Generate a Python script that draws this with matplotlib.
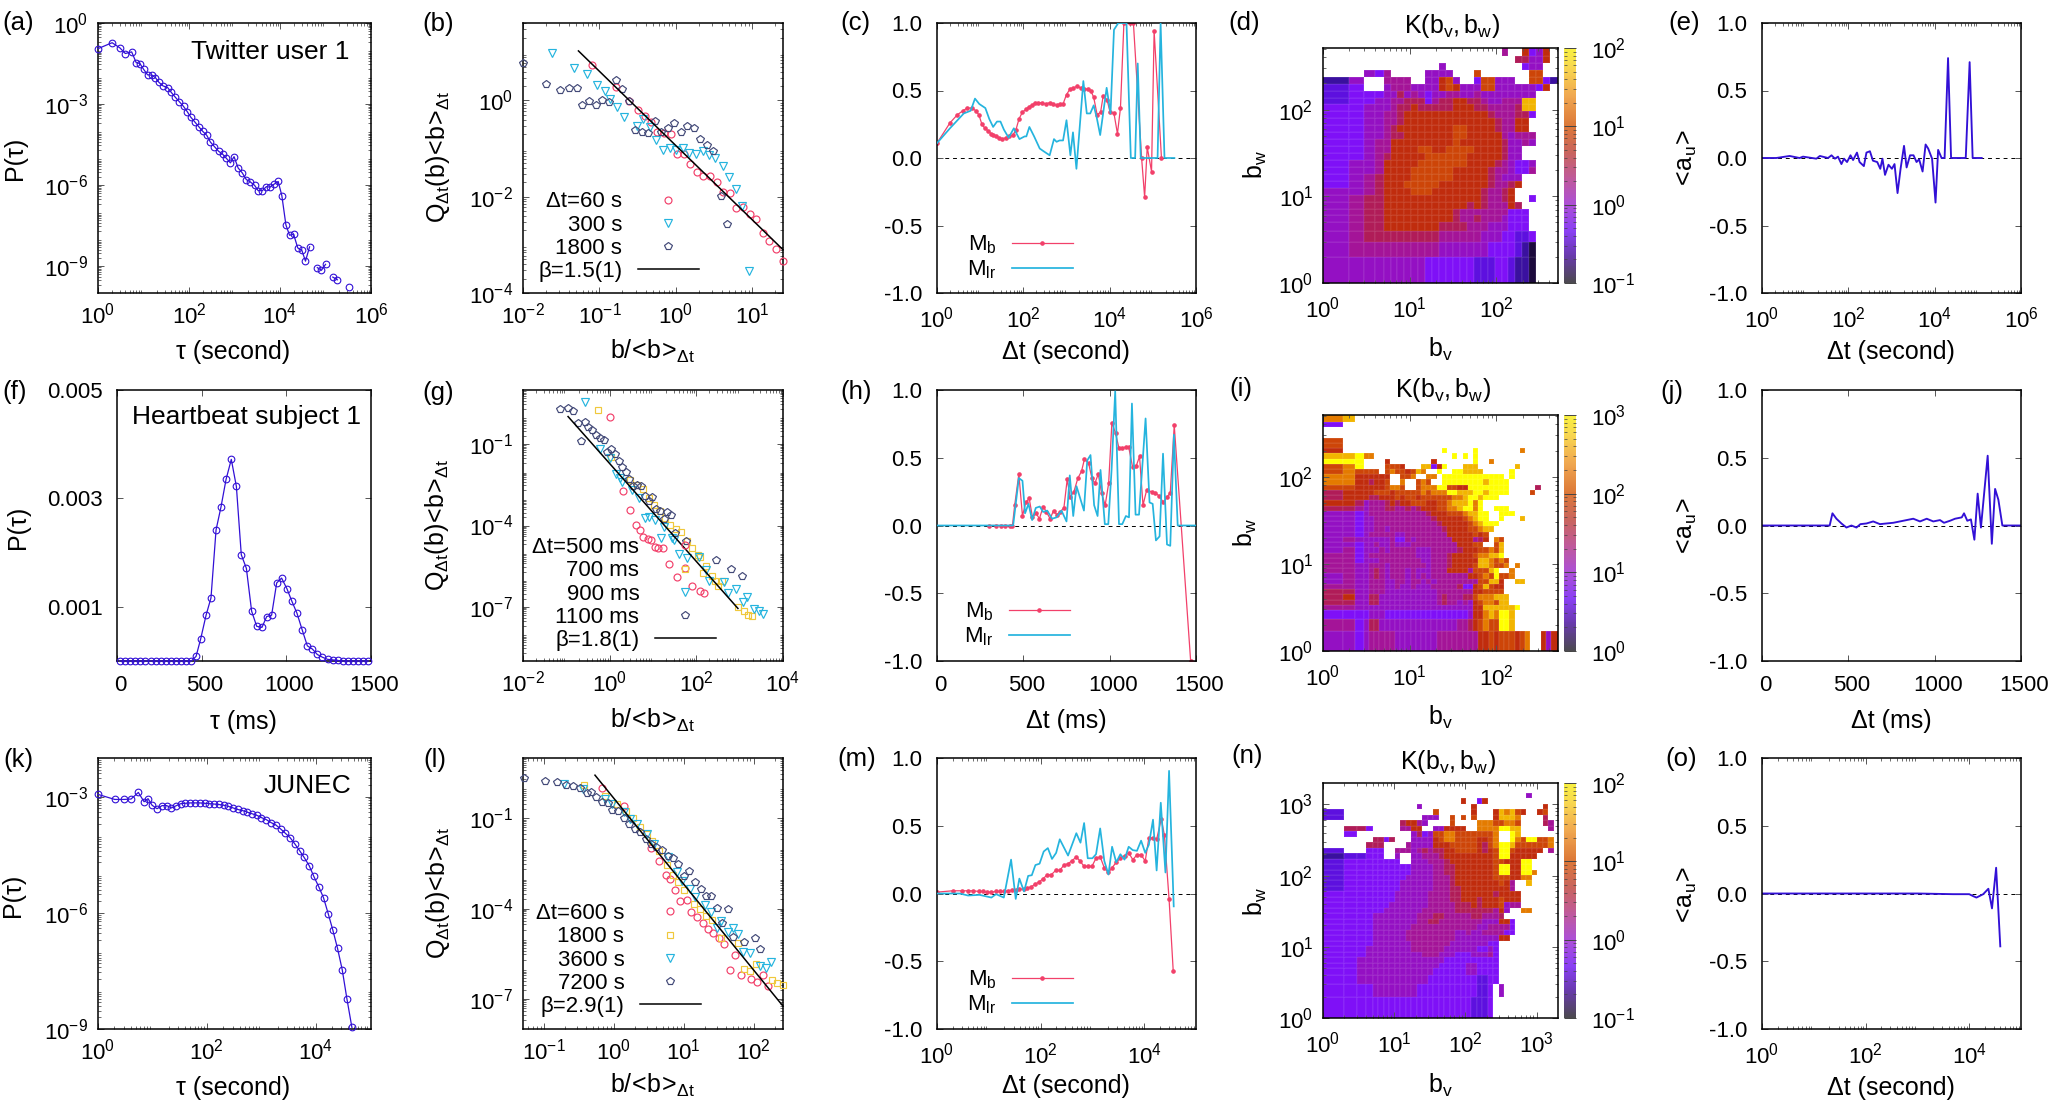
import numpy as np
import matplotlib
matplotlib.use("Agg")
import matplotlib.pyplot as plt
from matplotlib.colors import LinearSegmentedColormap, LogNorm
from matplotlib.cm import ScalarMappable
from matplotlib.ticker import FixedLocator, FuncFormatter, LogLocator, NullLocator
from matplotlib.transforms import ScaledTranslation

# ========================
# data (log10 of the values on log axes)
# ========================
a_tau = [0.00, 0.31, 0.48, 0.60, 0.74, 0.84, 0.92, 1.00, 1.09, 1.18, 1.26, 1.34, 1.43, 1.53, 1.61, 1.70,
         1.79, 1.88, 1.96, 2.04, 2.13, 2.22, 2.30, 2.39, 2.47, 2.56, 2.65, 2.74, 2.82, 2.91, 2.99, 3.08,
         3.17, 3.26, 3.35, 3.44, 3.52, 3.61, 3.70, 3.78, 3.87, 3.96, 4.04, 4.13, 4.21, 4.30, 4.39, 4.48,
         4.56, 4.65, np.nan, 4.82, 4.91, 5.00, np.nan, 5.16, 5.26, np.nan, 5.52]
a_p = [-0.95, -0.73, -0.92, -1.13, -1.07, -1.47, -1.50, -1.71, -1.92, -1.93, -2.02, -2.20, -2.33, -2.39, -2.57, -2.75,
       -2.92, -3.09, -3.28, -3.49, -3.67, -3.85, -4.01, -4.16, -4.41, -4.58, -4.75, -4.86, -5.01, -5.18, -4.95, -5.37,
       -5.55, -5.80, -5.89, -6.01, -6.21, -6.21, -6.06, -6.08, -5.97, -5.87, -6.39, -7.48, -7.86, -7.83, -8.33, -8.42,
       -8.82, -8.29, np.nan, -9.06, -9.16, -8.94, np.nan, -9.41, -9.51, np.nan, -9.77]

f_tau = [16, 45, 77, 106, 138, 167, 199, 228, 260, 289, 319, 348, 380, 409, 439, 467, 494, 526, 555, 585, 614, 644,
         675, 705, 734, 764, 795, 825, 856, 884, 913, 943, 972, 1004, 1033, 1063, 1093, 1124, 1154, 1183, 1213, 1244,
         1274, 1303, 1333, 1364, 1394, 1425, 1455, 1484]
f_p = [0, 0, 0, 0, 0, 0, 0, 0, 0, 0, 0, 0, 0, 0, 0, 0.086e-3, 0.405e-3, 0.845e-3, 1.164e-3, 2.42e-3, 2.84e-3, 3.35e-3,
       3.72e-3, 3.22e-3, 1.96e-3, 1.71e-3, 0.92e-3, 0.64e-3, 0.62e-3, 0.82e-3, 0.845e-3, 1.44e-3, 1.53e-3, 1.33e-3,
       1.10e-3, 0.88e-3, 0.58e-3, 0.28e-3, 0.22e-3, 0.12e-3, 0.07e-3, 0.03e-3, 0.02e-3, 0.01e-3, 0, 0, 0, 0, 0, 0]

k_tau = [0, .307, .479, .607, .742, .847, .92, .994, 1.086, 1.178, 1.264, 1.35, 1.442, 1.521, 1.607, 1.693, 1.779,
         1.871, 1.963, 2.049, 2.135, 2.221, 2.313, 2.399, 2.485, 2.571, 2.663, 2.748, 2.834, 2.92, 3.006, 3.092,
         3.184, 3.27, 3.356, 3.442, 3.534, 3.62, 3.706, 3.791, 3.883, 3.969, 4.061, 4.147, 4.233, 4.319, 4.405,
         4.491, 4.577, 4.669]
k_p = [-2.94, -3.07, -3.07, -3.06, -2.89, -3.13, -3.05, -3.22, -3.31, -3.23, -3.23, -3.29, -3.23, -3.18, -3.17, -3.16,
       -3.16, -3.16, -3.17, -3.18, -3.19, -3.20, -3.22, -3.25, -3.29, -3.33, -3.36, -3.40, -3.44, -3.48, -3.54, -3.59,
       -3.67, -3.73, -3.83, -3.94, -4.06, -4.22, -4.39, -4.57, -4.78, -5.06, -5.33, -5.61, -6.02, -6.45, -6.92, -7.47,
       -8.22, -8.96]

# burst size distributions
b_60_x = [-1.10, -.79, -.62, -.50, -.40, -.33, -.25, -.15, -.06, .02, .10, .19, .28, .36, .45, .54, .62, .71, .79, .88,
          .97, 1.05, 1.14, 1.22, 1.31, 1.40]
b_60_y = [.74, .29, -.01, -.20, -.32, -.44, -.66, -.68, -.70, -1.12, -1.12, -1.32, -1.48, -1.57, -1.57, -1.70, -1.91,
          -1.93, -2.23, -2.21, -2.36, -2.47, -2.76, -2.92, -3.08, -3.33]
b_300_x = [-1.62, -1.33, -1.16, -1.03, -.93, -.86, -.77, -.68, -.51, -.43, -.34, -.26, -.17, -.08, 0, .09, .17, .26,
           .35, .43, .51, .61, .69, .78, .86, .95]
b_300_y = [.99, .67, .56, .33, .20, .04, -.14, -.34, -.52, -.39, -.55, -.82, -1.03, -.98, -1.02, -.99, -1.09, -1.12,
           -1.04, -1.14, -1.19, -1.36, -1.58, -1.83, -2.19, -3.54]
b_1800_x = [-2.00, -1.70, -1.52, -1.40, -1.30, -1.23, -1.14, -1.05, -.97, -.88, -.79, -.71, -.62, -.54, -.45, -.36,
            -.28, -.19, -.11, -.02, .07, .15, .24, .32, .41, .49, .59, .67]
b_1800_y = [.78, .34, .21, .25, .25, -.09, -.02, -.09, 0, -.03, .42, .24, -.01, -.61, -.65, -.67, -.43, -.65, -.58,
            -.46, -.66, -.52, -.57, -.79, -.92, -1.04, -1.99, -2.56]
b_fit_x = [-1.275, 1.40]
b_fit_y = [1.03, -3.10]

g_500_x = [0, .30, .47, .60, .69, .78, .88, .95, 1.04, 1.11, 1.22, 1.38, 1.55, 1.73, 1.90, 2.08, 2.17]
g_500_y = [0, -2.71, -3.44, -3.98, -4.17, -4.41, -4.51, -4.54, -4.78, -4.84, -4.84, -5.42, -5.90, -5.58, -6.24,
           -6.41, -6.50]
g_700_x = [-.27, .04, .47, .62, .77, .90, 1.03, 1.16, 1.28, 1.39, 1.52, 1.64, 1.78, 1.91, 2.03, 2.09, 2.15, 2.23,
           2.36, 2.43, 2.51, 2.60, 2.96, 3.10, 3.20, 3.28]
g_700_y = [.25, -1.49, -2.32, -2.50, -2.66, -2.99, -3.24, -3.48, -3.73, -3.98, -4.12, -4.25, -4.59, -4.84, -5.08,
           -5.15, -5.76, -5.51, -5.86, -6.03, -6.25, -6.03, -6.99, -7.17, -7.30, -7.33]
g_900_x = [-.56, -.23, 0, .14, .24, .29, .52, .67, .81, .91, 1.05, 1.18, 1.25, 1.43, 1.49, 1.61, 1.78, 2.05, 2.23,
           2.30, 2.63, 2.73, 2.91, 3.07, 3.17, 3.34, 3.45, 3.53]
g_900_y = [.54, -1.18, -1.52, -2.09, -2.25, -2.41, -2.69, -2.99, -3.73, -3.67, -3.79, -4.47, -4.04, -4.47, -4.55,
           -5.06, -5.21, -5.18, -5.64, -6.03, -6.10, -6.50, -6.35, -6.84, -6.62, -7.09, -7.17, -7.27]
g_1100_x = [-1.14, -.97, -.84, -.73, -.66, -.58, -.49, -.40, -.32, -.23, -.14, -.06, .03, .12, .21, .29, .37, .45,
            .54, .64, .72, .81, .90, .98, 1.06, 1.15, 1.25, 1.33, 1.42, 1.51, 1.76, 2.46, 2.80, 3.06]
g_1100_y = [.30, .35, .24, -.23, -.88, -.19, -.35, -.47, -.66, -.78, -.86, -1.27, -1.17, -1.36, -1.63, -1.85, -2.01,
            -2.28, -2.55, -2.50, -2.55, -2.91, -3.09, -2.93, -3.39, -3.48, -3.76, -3.52, -3.63, -4.28, -4.57, -5.27,
            -5.61, -5.87]
g_fit_x = [-.96, 2.96]
g_fit_y = [.02, -7.06]

l_600_x = [-.17, .14, .53, .64, .74, .80, .88, .95, 1.04, 1.11, 1.19, 1.27, 1.34, 1.42, 1.50, 1.57, 1.66, 1.74, 1.82,
           1.96, 2.05, 2.13, 2.20]
l_600_y = [.01, -.59, -2.00, -2.43, -2.87, -3.01, -3.37, -3.75, -3.73, -4.11, -4.27, -4.47, -4.69, -4.80, -4.99,
           -5.19, -6.04, -5.53, -6.20, -6.34, -6.43, -6.21, -6.57]
l_1800_x = [-.43, -.13, .05, .18, .28, .37, .47, .55, .64, .76, .84, .92, 1.01, 1.15, 1.23, 1.32, 1.40, 1.54, 1.78,
            1.86, 1.95, 2.03, 2.26, 2.34, 2.42]
l_1800_y = [.09, -.26, -.54, -.76, -1.00, -1.29, -1.53, -1.75, -2.08, -2.57, -2.87, -3.12, -3.37, -3.84, -4.00,
            -4.24, -4.38, -4.99, -5.15, -6.00, -6.09, -5.85, -6.38, -6.47, -6.55]
l_3600_x = [-.72, -.44, -.13, -.03, .15, .23, .33, .47, .57, .77, .90, .97, 1.09, 1.16, 1.31, 1.39, 1.47, 1.54, 1.64,
            1.70, 1.78, 1.85, 1.95, 2.09, 2.17, 2.25]
l_3600_y = [.14, -.02, -.37, -.54, -.78, -1.03, -1.20, -1.53, -1.86, -2.30, -2.79, -3.07, -3.34, -3.62, -3.89, -4.11,
            -4.66, -4.42, -4.77, -4.64, -4.85, -5.43, -5.48, -5.92, -5.99, -5.78]
l_7200_x = [-1.29, -.99, -.81, -.69, -.59, -.48, -.39, -.32, -.25, -.17, -.09, -.02, .06, .15, .22, .30, .38, .46,
            .53, .61, .69, .77, .84, .92, 1.00, 1.08, 1.16, 1.24, 1.32, 1.39, 1.47, 1.55, 1.63, 1.71, 1.86, 2.02, 2.09]
l_7200_y = [.34, .25, .19, .10, .07, -.01, -.15, -.12, -.30, -.47, -.48, -.74, -.76, -.98, -1.18, -1.35, -1.47, -1.69,
            -1.86, -1.97, -2.04, -2.27, -2.32, -2.52, -2.93, -2.76, -3.11, -3.36, -3.57, -3.57, -3.97, -4.47, -4.00,
            -4.96, -5.12, -4.97, -5.35]
l_fit_x = [-.27, 2.42]
l_fit_y = [.43, -7.24]

# memory coefficients
c_mb_x = [0, .30, .47, .60, .70, .81, .90, .97, 1.04, 1.11, 1.19, 1.25, 1.30, 1.36, 1.43, 1.51, 1.59, 1.66, 1.76,
          1.83, 1.90, 1.98, 2.06, 2.13, 2.20, 2.27, 2.35, 2.43, 2.52, 2.61, 2.69, 2.77, 2.85, 2.92, 3.00, 3.08, 3.16,
          3.24, 3.33, 3.41, 3.49, 3.56, 3.63, 3.71, 3.79, 3.85, 3.94, 4.01, 4.10, 4.18, 4.25, 4.33, 4.47, 4.55, 4.74,
          4.81, 4.87, 4.97, 5.03, 5.20]
c_mb_y = [.11, .26, .32, .35, .37, .37, .35, .32, .25, .22, .20, .18, .17, .16, .15, .14, .15, .16, .17, .21, .29,
          .34, .36, .38, .39, .41, .41, .41, .40, .41, .40, .39, .40, .40, .47, .51, .52, .53, .52, .51, .51, .50,
          .45, .32, .34, .46, .43, .34, .33, .18, .37, 1.0, 1.0, 1.0, 0, -.29, .08, -.10, .94, 0]
c_lr_x = [0, .30, .62, .78, .88, .98, 1.12, 1.21, 1.30, 1.39, 1.47, 1.55, 1.66, 1.78, 1.91, 2.03, 2.07, 2.14, 2.25,
          2.38, 2.47, 2.61, 2.71, 2.77, 2.84, 2.92, 3.00, 3.09, 3.15, 3.23, 3.39, 3.47, 3.55, 3.63, 3.70, 3.78, 3.93,
          4.02, 4.10, 4.20, 4.39, 4.49, 4.59, 4.65, 4.72, 5.11, 5.18, 5.27, 5.50]
c_lr_y = [.11, .22, .33, .35, .44, .40, .37, .29, .23, .27, .27, .21, .15, .22, .14, .16, .16, .23, .16, .07, .05,
          .02, .14, .12, .13, .13, .28, .02, .19, -.08, .57, .33, .33, .39, .30, .17, .52, .33, .95, 1.0, 1.0, 0, 0,
          .70, 0, 0, 1.0, 0, 0]

h_mb_x = [303, 342, 373, 396, 421, 437, 450, 474, 495, 514, 534, 553, 574, 593, 615, 634, 655, 675, 694, 713, 735,
          754, 771, 793, 816, 837, 854, 878, 897, 914, 934, 953, 974, 994, 1013, 1034, 1054, 1073, 1092, 1110, 1133,
          1154, 1173, 1193, 1214, 1243, 1262, 1286, 1311, 1332, 1351, 1374, 1469]
h_mb_y = [0, 0, 0, 0, 0, 0, .15, .38, .07, .17, .20, .06, .09, .05, .14, .10, .05, .11, .08, .10, .13, .34, .21, .25,
          .35, .40, .49, .46, .35, .31, .38, .24, .15, .31, .76, .68, .57, .57, .58, .58, .43, .44, .51, .15, .26,
          .25, .24, .22, .17, .21, .24, .74, -1.0]
h_lr_x = [0, 441, 474, 495, 510, 530, 551, 572, 595, 615, 638, 667, 692, 721, 750, 769, 789, 808, 851, 870, 889, 910,
          930, 947, 972, 992, 1011, 1032, 1054, 1073, 1094, 1112, 1129, 1150, 1170, 1208, 1231, 1249, 1268, 1289,
          1309, 1332, 1351, 1372, 1394, 1500]
h_lr_y = [0, 0, .35, .33, .09, .16, .04, .13, .14, .10, .11, .05, .06, .11, .03, .37, .07, .29, .11, .48, .52, .15,
          .07, .41, .01, .01, .41, .99, .01, .01, .07, .06, .90, .08, .08, .79, .17, .16, -.11, -.08, .53, -.14, -.15,
          .67, 0, 0]

m_mb_x = [0, .30, .48, .60, .69, .81, .89, .96, 1.04, 1.13, 1.21, 1.29, 1.37, 1.45, 1.53, 1.59, 1.67, 1.74, 1.82,
          1.90, 1.97, 2.05, 2.12, 2.21, 2.29, 2.37, 2.45, 2.53, 2.60, 2.69, 2.76, 2.84, 2.91, 2.99, 3.07, 3.15, 3.23,
          3.31, 3.38, 3.46, 3.54, 3.62, 3.70, 3.78, 3.86, 3.94, 4.02, 4.09, 4.17, 4.24, 4.33, 4.39, 4.48, 4.56]
m_mb_y = [.01, .02, .02, .02, .02, .015, .015, .01, .01, .015, .015, .015, .02, .025, .025, .03, .035, .04, .05, .07,
          .085, .11, .135, .14, .17, .17, .21, .22, .24, .27, .24, .20, .20, .20, .26, .27, .19, .155, .19, .23, .26,
          .28, .30, .25, .285, .285, .24, .41, .41, .40, .55, .43, -.04, -.57]
m_lr_x = [0, .44, .60, .82, 1.05, 1.14, 1.29, 1.43, 1.52, 1.59, 1.68, 1.76, 1.83, 1.90, 1.98, 2.06, 2.14, 2.22, 2.30,
          2.37, 2.53, 2.69, 2.77, 2.84, 2.91, 3.00, 3.07, 3.15, 3.23, 3.31, 3.38, 3.46, 3.54, 3.62, 3.70, 3.78, 3.86,
          3.94, 4.02, 4.09, 4.17, 4.24, 4.32, 4.41, 4.48, 4.57]
m_lr_y = [0, 0, -.015, -.01, -.03, -.005, -.03, .25, -.04, .11, .015, .13, .135, .21, .22, .31, .335, .255, .30, .40,
          .28, .445, .375, .52, .26, .26, .29, .48, .24, .14, .345, .23, .29, .25, .345, .32, .315, .39, .30, .36,
          .545, .17, .67, .155, .905, -.095]

# <a_u>
e_x = [0, .33, .64, .87, .95, 1.26, 1.34, 1.53, 1.61, 1.69, 1.76, 1.84, 1.90, 1.97, 2.05, 2.11, 2.20, 2.26, 2.36,
       2.42, 2.50, 2.57, 2.67, 2.74, 2.79, 2.85, 2.93, 3.01, 3.07, 3.14, 3.21, 3.29, 3.35, 3.43, 3.51, 3.58, 3.64,
       3.72, 3.79, 3.85, 3.94, 4.02, 4.08, 4.16, 4.23, 4.31, 4.38, 4.72, 4.81, 4.88, 5.09]
e_y = [0, 0, .015, 0, .01, -.005, .015, 0, .02, -.005, .01, -.045, -.005, -.03, .02, -.015, .04, -.03, -.06, .04,
       .05, -.02, -.03, -.08, -.005, -.125, -.05, -.08, -.045, -.26, -.08, .09, -.07, .02, .02, -.03, -.01, -.10,
       .10, .07, -.005, -.33, .06, 0, 0, .74, 0, 0, .71, 0, 0]
j_x = [0, 392, 408, 431, 460, 489, 518, 547, 570, 605, 644, 683, 721, 760, 799, 876, 915, 954, 992, 1031, 1054, 1089,
       1118, 1157, 1170, 1189, 1210, 1230, 1249, 1268, 1307, 1331, 1350, 1369, 1392, 1495]
j_y = [0, 0, .09, .05, .015, -.015, 0, -.015, .01, .015, .03, .01, .015, .02, .03, .05, .03, .05, .03, .04, .02, .035,
       .05, .06, .09, .035, .045, -.105, .235, -.015, .515, -.135, .27, .19, 0, 0]
o_x = [0, 1, 2, 3, 3.69, 4.0, 4.08, 4.14, 4.27, 4.37, 4.44, 4.52, 4.60]
o_y = [0, 0, 0, 0, -.005, -.005, -.02, -.03, -.005, .035, -.11, .19, -.39]

# K(bv,bw), one character per cell from the lowest to the highest colour level, '.' = empty cell
d_rows = [
    "..................... 5 .. 7347",
    "....................... 66447",
    "............ 4 ........... 344",
    "..435 ..... 4444 ... 8 ....... 88",
    "14 .. 5555 .. 44784 .. 388444 .. 8831",
    "23 .. 4555 4444 787 444 88 444444 37",
    "23334464543445544544444444",
    "233445566635667766544555aa",
    "334445667666667776655556aa",
    "33445567777777777776555663",
    "3344556 7777777777777 6 55 77",
    "334456 77777777 88 7777 6 55 77",
    "334456 6 7777777 88 77777 5 4 555",
    "33455 777777777 8 777777 6 44 54",
    "33455 7777 88 77 8888 7777 6 44",
    "33456 77777 888888 77777 6 44",
    "3445 77777 8888888 7777 6 5 4 33 4",
    "3445 7777 888888 77777 6 55 4 33 5",
    "3456 7777 888888 77777 6 5 4 4 4",
    "3456 777 88888 7777777 6 55 6 7",
    "4456 7777 888 7777777 6 55 6 7",
    "4566 77777777777777 6 55 6 7 .. 3",
    "4566 777777777777 6 7 6 555 7 6",
    "4566 7777777777 6 5555555 333",
    "4566 7777777777 6 55 6 555 4 333",
    "4566 77777777 6666 555 444 333",
    "45 6666666666 555555 444 33 22 3",
    "4 55555555555 4444444 3333 2 1 0",
    "4444444444 3333333 222 33 2 1 1 0",
]
i_rows = [
    "9a",
    "3",
    "",
    "",
    "8",
    "8",
    "7................. b ..... b ........ 9",
    "aab99 ............... b . b . b",
    "bbb .... 7 ........ 7 ....... b .. 9",
    "89b .... 8887 ... aa37b ... aaa ....... a",
    "89 8888 . 8988 7 8 a 9 .. b .. bb aaaa ..... b",
    "99777777 .. 889 .. 99 . bbbbbbbbbbbb . b",
    "99776778 .. 9 .. 898 .. bbbbbbbb a bbbb",
    "88777778998 .. 8999 bb 8877 bbbbbbbb ..... 6",
    "67777 888 7 88888 9 8 999 bb aaa bb a bbbb .... 8",
    "6777 66 777 8 7 88 7 888888 99 a bb a bbb",
    "77645556767788877889aaab9b",
    "665455566556567778899abb9b .. bbb",
    "4434 55555555555 6 777 888 9 aa bb .. bbb",
    "44344 55555555555 6 77777 8 9 a bb .. b ... a",
    "44344 555555555555 6 77777 8 9 a bbb",
    "44344 55 4 5555555555 6 7777 88 9 aa",
    "443455555 44 55555555 77777 878",
    "45 444444 5 33 5 4 5555555 7777 567 . 98",
    "443445445444 555555555 777 88 .. 8a",
    "453444 54 55555 444 55555 6 777 88 98a",
    "5534 555555555 444 555 6 7777 8 99 aa b",
    "553444 55555555 44 555 6 77777 aa9898",
    "5544 555 4 5555555 4 555 6 7777 8 aa 9 88 9 . 9",
    "55445654 555 4 5 444 555 7777 5 888 ab .. 9",
    "45445654 555 4 5 4 5 4 5555555 77 8 9 8 b 88 9",
    "45445554455455454 55555555 88 aa 7 .. aa",
    "5544555445 44 5 444 55555 6 33 78a877",
    "6644555 4444444444 5555555 77 8888",
    "674466 44444444444 5 6 555 66 8 999 aaa",
    "664466 44444444444 56 55 4 5 4 7 8 99 8 aa",
    "55 4444444444444444444444 77 aaaaaa b",
    "3333444 3333333333333333 4 77 9 a 9 bb a",
    "553466 444444444444444 55 6 7 8 9 88 bb a",
    "4434 55555 44444444 55555555 77 8 7 888 7 8 9 .. 747",
]
n_rows = [
    "",
    "",
    "................................ 4",
    ".................... 7 .. 3 7",
    "............ 4 ......... 7 ............ 7",
    "2 .............. 8 ...... 7 ... 7 a9a87 .. 78",
    "2 ............ 444 .. 8 . 8 . 8 ... 7 aaa9 .... 6",
    "......... 67754 .... 8 .... 999 88 99 8 .... 65",
    ". 663 ..... 5577 .. 44 7777 .. 9999 bb aa ..... 5",
    ". 3 ......... 4 6 3 4 88 99 8888888 9 .. ba",
    ".... 6636 ... 4444 7 8 99 8888 77 8 9 .. b98 bb 88 9",
    "... 666 .... 5 4444 777 88888 7 6 8 9 bb a 8 88888 9",
    "2 .. 333 .. 555 4 5 6 5 66 77 8888 7 6 7 8 bb 8 77777 . 5",
    "1 22 333 .. 4 .. 44 555 6 777777777 8 bb 77777",
    "2 33333333 .. 444 555 6 77777777 88 777 bb",
    "2 3333333333 4444 55 66 7777777 8 bb 77 bb",
    "2 3333333333 4444 55 66 7777777 8 bb 77 bb 9",
    "2 333333333 44444 555 6 7777777 888 77 99",
    "2 33333333 444444 555 6 77777777 8 7 5 .. a",
    "2 33333333 444444 555 66 777777777 5",
    "33333333 444444 5555 66 777777 6 7777",
    "33333333 444444 5555 66 777 6 777 8 777",
    "3333333 4444444 55555 666 7 6 777 8 4 55",
    "333333 4444444 555555 6666666 5 7 4 .. 99",
    "3333 44444444 555 66 55555 66 555 6",
    "3333 44444444 55 66 55555555 444 77 3",
    "3333 4444444 555555555555 44 5555 3",
    "3333 444444 555555555 44 5 44 5555 33",
    "3333 444444 555555555 44444444 77",
    "3333 4444444 5555555 4444444 33",
    "333 44444444 555555 444444 33 4 3",
    "333 4444444444 555 444 333 444 5 3",
    "33 444444444444444 3333333333",
    "33 44444444444444 33333 44 3333",
    "33 4444444444444 333333 44 3333",
    "33 444444444444 333333333 22 33",
    "3333 44444444 33333333333 22 3 . 4",
    "3333333333333333333333 222 3",
]
# bin edges of the three maps (log10)
d_edges = np.r_[0, .301, .477, .602, .699 + .08 * np.arange(25), 2.71]
i_edges = np.r_[0, .23, .37, .47 + .06 * np.arange(37), 2.71]
n_edges = np.r_[0, .301, .477, .602, .699 + .077 * np.arange(34), 3.30]

# ========================
# style
# ========================
W, H = 2063, 1103
plt.rcParams["font.family"] = ["Liberation Sans", "DejaVu Sans"]
plt.rcParams["font.size"] = 18
plt.rcParams["mathtext.fontset"] = "custom"
plt.rcParams["mathtext.rm"] = "Liberation Sans"
plt.rcParams["mathtext.it"] = "Liberation Sans"
plt.rcParams["mathtext.bf"] = "Liberation Sans"
plt.rcParams["mathtext.default"] = "regular"
plt.rcParams["axes.unicode_minus"] = False
plt.rcParams["axes.linewidth"] = 1.1

BLUE = "#3210d6"
RED = "#f2406a"
CYAN = "#25b4de"
YELLOW = "#f0c83c"
NAVY = "#434a78"
TICK = "#555555"

cell_cmap = LinearSegmentedColormap.from_list("cells", [
    "#1c0a3c", "#3a10a0", "#5e10e0", "#8010f8", "#9410c4", "#a41498",
    "#b01c58", "#c02c0c", "#cc4408", "#e47a00", "#f2b400", "#ffff00"])
cell_cmap.set_bad((1, 1, 1, 0))
bar_cmap = LinearSegmentedColormap.from_list("bar", [
    (0.0, "#4c4a50"), (0.12, "#6a3ab0"), (0.22, "#8a40f4"), (0.33, "#ac50d8"), (0.45, "#c05a98"),
    (0.55, "#c86460"), (0.67, "#dc7838"), (0.80, "#f0a850"), (0.92, "#f8d850"), (1.0, "#f8f040")])

fig = plt.figure(figsize=(W / 100, H / 100), dpi=100)


def new_axes(x0, y0, x1, y1):
    return fig.add_axes([x0 / W, 1 - y1 / H, (x1 - x0) / W, (y1 - y0) / H])


def put(x, y, s, **kw):
    fig.text(x / W, 1 - y / H, s, ha="center", va="center", **kw)


def dec_label(v, pos=None):
    return r"$10^{%d}$" % round(np.log10(v))


def style(ax, xticks, yticks, yfmt=None, xpad=7, ypad=7, xshift=0):
    # gnuplot-like frame: ticks inside on all four sides
    for side, ticks in (("x", xticks), ("y", yticks)):
        axis = ax.xaxis if side == "x" else ax.yaxis
        axis.set_major_locator(FixedLocator(ticks))
        if axis.get_scale() == "log":
            axis.set_major_formatter(FuncFormatter(dec_label))
            axis.set_minor_locator(LogLocator(base=10, subs=np.arange(2, 10), numticks=60))
            axis.set_minor_formatter(FuncFormatter(lambda v, pos: ""))
        else:
            axis.set_minor_locator(NullLocator())
    if yfmt:
        ax.yaxis.set_major_formatter(FuncFormatter(lambda v, pos: yfmt % v))
    ax.tick_params(which="major", direction="in", top=True, right=True, length=4.5, width=0.7, color=TICK, labelsize=16)
    ax.tick_params(which="minor", direction="in", top=True, right=True, length=2.2, width=0.6, color=TICK)
    ax.tick_params(axis="x", which="major", pad=xpad)
    ax.tick_params(axis="y", which="major", pad=ypad)
    if xshift:
        offset = ScaledTranslation(xshift / 100, 0, fig.dpi_scale_trans)
        for lab in ax.get_xticklabels():
            lab.set_transform(lab.get_transform() + offset)


def add_legend(ax, right, bottom):
    ax.legend(loc="lower right", bbox_to_anchor=(right / W, 1 - bottom / H), bbox_transform=fig.transFigure,
              frameon=False, markerfirst=False, fontsize=16, handlelength=2.75, handletextpad=0.7,
              labelspacing=0.10, borderpad=0, borderaxespad=0, numpoints=1)


def marks(ax, x, y, m, color, label, ms=5.0):
    if m in ("v", "p"):
        ms = 5.3
    ax.plot(10.0 ** np.array(x), 10.0 ** np.array(y), ls="none", marker=m, mfc="none", mec=color, mew=0.85, ms=ms,
            clip_on=False, zorder=3, label=label)


def pdf_log(box, x, y, xlim, ylim, xticks, yticks):
    ax = new_axes(*box)
    ax.set_xscale("log")
    ax.set_yscale("log")
    ax.plot(10.0 ** np.array(x), 10.0 ** np.array(y), "-o", color=BLUE, lw=0.9, mfc="none", mew=0.8, ms=4.8,
            clip_on=False, zorder=3)
    ax.set_xlim(*xlim)
    ax.set_ylim(*ylim)
    style(ax, xticks, yticks)
    return ax


def memory(box, mb_x, mb_y, lr_x, lr_y, xlim, xticks, logx=True, xshift=0):
    ax = new_axes(*box)
    if logx:
        ax.set_xscale("log")
        mb_x, lr_x = 10.0 ** np.array(mb_x), 10.0 ** np.array(lr_x)
    ax.axhline(0, color="k", lw=0.7, ls=(0, (4, 4)), zorder=1)
    ax.plot(mb_x, mb_y, "-o", color=RED, lw=0.9, ms=2.3, label=r"$M_b$", zorder=2)
    ax.plot(lr_x, lr_y, "-", color=CYAN, lw=1.25, label=r"$M_{lr}$", zorder=3)
    ax.set_xlim(*xlim)
    ax.set_ylim(-1, 1)
    style(ax, xticks, [-1, -.5, 0, .5, 1], yfmt="%.1f", xpad=10, ypad=10.5, xshift=xshift)
    return ax


def mean_au(box, x, y, xlim, xticks, logx=True, xshift=0):
    ax = new_axes(*box)
    if logx:
        ax.set_xscale("log")
        x = 10.0 ** np.array(x)
    ax.axhline(0, color="k", lw=0.7, ls=(0, (4, 4)), zorder=1)
    ax.plot(x, y, "-", color=BLUE, lw=1.35, zorder=2)
    ax.set_xlim(*xlim)
    ax.set_ylim(-1, 1)
    style(ax, xticks, [-1, -.5, 0, .5, 1], yfmt="%.1f", xpad=10, ypad=10.5, xshift=xshift)
    return ax


def kmap(box, bar_x, rows, edges, lo, hi, ticks):
    ax = new_axes(*box)
    ncol = len(edges) - 1
    cells = []
    for row in rows[::-1]:
        row = row.replace(" ", "").ljust(ncol, ".")
        cells.append([np.nan if c == "." else int(c, 16) / 11 for c in row[:ncol]])
    K = 10.0 ** (lo + np.array(cells) * (hi - lo))
    norm = LogNorm(10.0 ** lo, 10.0 ** hi)
    bins = 10.0 ** edges
    ax.set_xscale("log")
    ax.set_yscale("log")
    ax.pcolormesh(bins, bins, np.ma.masked_invalid(K), cmap=cell_cmap, norm=norm, edgecolors=(1, 1, 1, 0.05),
                  linewidth=0.2)
    ax.set_xlim(bins[0], bins[-1])
    ax.set_ylim(bins[0], bins[-1])
    style(ax, ticks, ticks, xpad=10, ypad=7)
    for spine in ax.spines.values():
        spine.set_zorder(5)
    # colour box on the right
    cax = new_axes(bar_x[0], box[1], bar_x[1], box[3])
    cb = fig.colorbar(ScalarMappable(norm=norm, cmap=bar_cmap), cax=cax)
    cb.outline.set_visible(False)
    cb.set_ticks(10.0 ** np.arange(lo, hi + 1))
    cax.yaxis.set_major_formatter(FuncFormatter(dec_label))
    cax.yaxis.set_minor_locator(LogLocator(base=10, subs=np.arange(2, 10), numticks=60))
    cax.yaxis.set_minor_formatter(FuncFormatter(lambda v, pos: ""))
    cax.tick_params(which="major", direction="in", left=True, right=True, length=5, width=0.7, color="#444444",
                    labelsize=16, pad=11)
    cax.tick_params(which="minor", direction="in", left=True, right=True, length=2.2, width=0.5, color="#444444")
    return ax


# ========================
# left column: P(tau)
# ========================
ax = pdf_log((98, 23, 371, 293), a_tau, a_p, (1, 1e6), (1e-10, 1), [1, 1e2, 1e4, 1e6], [1, 1e-3, 1e-6, 1e-9])

ax = new_axes(117, 390, 371, 661)
ax.plot(f_tau, f_p, "-o", color=BLUE, lw=0.9, mfc="none", mew=0.8, ms=4.8, clip_on=False, zorder=3)
ax.set_xlim(0, 1500)
ax.set_ylim(0, 0.005)
style(ax, [0, 500, 1000, 1500], [.001, .003, .005], yfmt="%.3f", xpad=10, ypad=10.5, xshift=3)

ax = pdf_log((98, 758, 371, 1029), k_tau, k_p, (1, 10 ** 5.02), (1e-9, 1e-2), [1, 1e2, 1e4], [1e-3, 1e-6, 1e-9])

# ========================
# second column: burst sizes
# ========================
ax = new_axes(523, 23, 783, 293)
ax.set_xscale("log")
ax.set_yscale("log")
marks(ax, b_60_x, b_60_y, "o", RED, "\u0394t=60 s")
marks(ax, b_300_x, b_300_y, "v", CYAN, "300 s")
marks(ax, b_1800_x, b_1800_y, "p", NAVY, "1800 s")
ax.plot(10.0 ** np.array(b_fit_x), 10.0 ** np.array(b_fit_y), "k-", lw=1.1, clip_on=False, zorder=4,
        label="\u03b2=1.5(1)")
ax.set_xlim(1e-2, 10 ** 1.4)
ax.set_ylim(1e-4, 10 ** 1.61)
style(ax, [1e-2, 1e-1, 1, 10], [1, 1e-2, 1e-4])
add_legend(ax, 699, 282)

ax = new_axes(523, 390, 783, 661)
ax.set_xscale("log")
ax.set_yscale("log")
marks(ax, g_500_x, g_500_y, "o", RED, "\u0394t=500 ms")
marks(ax, g_700_x, g_700_y, "s", YELLOW, "700 ms")
marks(ax, g_900_x, g_900_y, "v", CYAN, "900 ms")
marks(ax, g_1100_x, g_1100_y, "p", NAVY, "1100 ms")
ax.plot(10.0 ** np.array(g_fit_x), 10.0 ** np.array(g_fit_y), "k-", lw=1.1, zorder=4, label="\u03b2=1.8(1)")
ax.set_xlim(1e-2, 1e4)
ax.set_ylim(1e-9, 10)
style(ax, [1e-2, 1, 1e2, 1e4], [1e-1, 1e-4, 1e-7])
add_legend(ax, 716, 651)

ax = new_axes(523, 758, 783, 1029)
ax.set_xscale("log")
ax.set_yscale("log")
marks(ax, l_600_x, l_600_y, "o", RED, "\u0394t=600 s")
marks(ax, l_1800_x, l_1800_y, "s", YELLOW, "1800 s")
marks(ax, l_3600_x, l_3600_y, "v", CYAN, "3600 s")
marks(ax, l_7200_x, l_7200_y, "p", NAVY, "7200 s")
ax.plot(10.0 ** np.array(l_fit_x), 10.0 ** np.array(l_fit_y), "k-", lw=1.1, clip_on=False, zorder=4,
        label="\u03b2=2.9(1)")
ax.set_xlim(10 ** -1.30, 10 ** 2.42)
ax.set_ylim(1e-8, 10)
style(ax, [1e-1, 1, 10, 100], [1e-1, 1e-4, 1e-7])
add_legend(ax, 701, 1017)

# ========================
# third column: memory coefficients
# ========================
ax = memory((937, 23, 1196, 293), c_mb_x, c_mb_y, c_lr_x, c_lr_y, (1, 1e6), [1, 1e2, 1e4, 1e6])
add_legend(ax, 1073, 281)
ax = memory((937, 390, 1196, 661), h_mb_x, h_mb_y, h_lr_x, h_lr_y, (0, 1500), [0, 500, 1000, 1500], logx=False,
            xshift=3)
add_legend(ax, 1070, 648)
ax = memory((937, 758, 1196, 1029), m_mb_x, m_mb_y, m_lr_x, m_lr_y, (1, 1e5), [1, 1e2, 1e4])
add_legend(ax, 1073, 1016)

# ========================
# K maps
# ========================
kmap((1323, 48, 1558, 283), (1564, 1576), d_rows, d_edges, -1, 2, [1, 10, 100])
kmap((1323, 415, 1558, 651), (1564, 1576), i_rows, i_edges, 0, 3, [1, 10, 100])
kmap((1323, 783, 1558, 1018), (1564, 1576), n_rows, n_edges, -1, 2, [1, 10, 100, 1000])

# ========================
# right column: <a_u>
# ========================
mean_au((1762, 23, 2021, 293), e_x, e_y, (1, 1e6), [1, 1e2, 1e4, 1e6])
mean_au((1762, 390, 2021, 661), j_x, j_y, (0, 1500), [0, 500, 1000, 1500], logx=False, xshift=3)
mean_au((1762, 758, 2021, 1029), o_x, o_y, (1, 1e5), [1, 1e2, 1e4])

# ========================
# labels
# ========================
panel_tags = [("(a)", 18, 23), ("(b)", 438, 24), ("(c)", 855, 23), ("(d)", 1244, 23), ("(e)", 1684, 23),
              ("(f)", 15, 392), ("(g)", 438, 393), ("(h)", 856, 392), ("(i)", 1241, 389), ("(j)", 1672, 392),
              ("(k)", 18, 760), ("(l)", 435, 760), ("(m)", 857, 759), ("(n)", 1247, 756), ("(o)", 1681, 759)]
for tag, x, y in panel_tags:
    put(x, y, tag, fontsize=18.5)

put(270, 52, "Twitter user 1", fontsize=19)
put(247, 417, "Heartbeat subject 1", fontsize=19)
put(307, 786, "JUNEC", fontsize=19)

Q_LABEL = r"$Q_{\Delta t}(b)\!<\!b\!>\!{}_{\Delta t}$"
B_LABEL = r"$b/\!<\!b\!>\!{}_{\Delta t}$"
K_TITLE = r"$K(b_v,b_w)$"
AU_LABEL = r"$\!<\!a_u\!>\!$"

x_labels = [(233, 352, "\u03c4 (second)"), (653, 351, B_LABEL), (1066, 352, "\u0394t (second)"), (1440, 349, r"$b_v$"),
            (1891, 352, "\u0394t (second)"),
            (243, 722, "\u03c4 (ms)"), (653, 720, B_LABEL), (1066, 721, "\u0394t (ms)"), (1440, 717, r"$b_v$"),
            (1891, 721, "\u0394t (ms)"),
            (233, 1088, "\u03c4 (second)"), (653, 1085, B_LABEL), (1066, 1086, "\u0394t (second)"), (1440, 1085, r"$b_v$"),
            (1891, 1088, "\u0394t (second)")]
for x, y, s in x_labels:
    put(x, y, s)

y_labels = [(15, 158, "P(\u03c4)"), (438, 157, Q_LABEL), (1255, 165, r"$b_w$"), (1687, 158, AU_LABEL),
            (18, 527, "P(\u03c4)"), (437, 525, Q_LABEL), (1245, 533, r"$b_w$"), (1687, 526, AU_LABEL),
            (13, 895, "P(\u03c4)"), (438, 893, Q_LABEL), (1255, 902, r"$b_w$"), (1687, 895, AU_LABEL)]
for x, y, s in y_labels:
    put(x, y, s, rotation=90)

put(1452, 26, K_TITLE)
put(1443, 390, K_TITLE)
put(1448, 762, K_TITLE)

plt.savefig("out.png", dpi=100)
